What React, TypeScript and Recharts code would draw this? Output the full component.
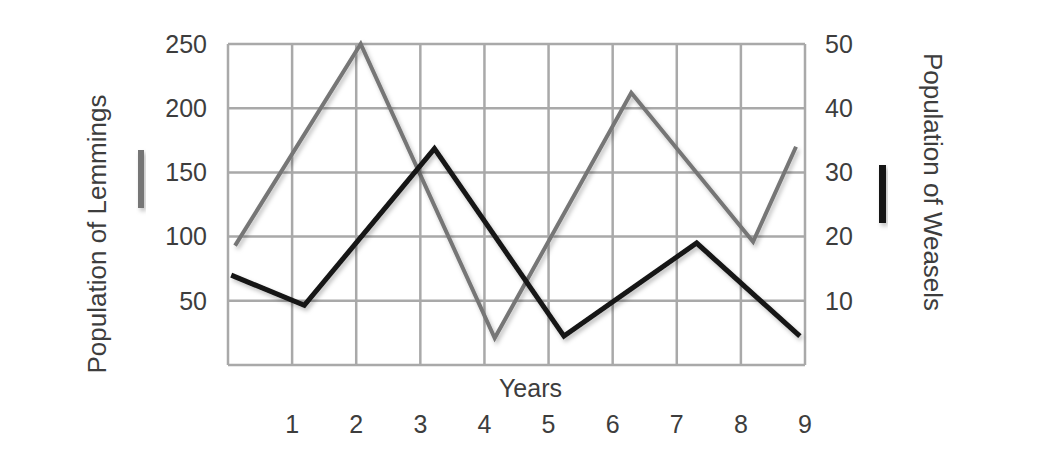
import { LineChart, Line, XAxis, YAxis, CartesianGrid, Label } from 'recharts';

// Lemming and weasel populations over nine years
const lemmingYears = [0.11, 2.07, 4.16, 6.29, 8.19, 8.86];
const lemmingCounts = [93, 250, 21, 212, 96, 170];

const weaselYears = [0.05, 1.19, 3.22, 5.24, 7.31, 8.92];
const weaselCounts = [14, 9.3, 33.7, 4.5, 19, 4.5];

const yearTicks = [0, 1, 2, 3, 4, 5, 6, 7, 8, 9];
const lemmingTicks = [0, 50, 100, 150, 200, 250];
const weaselTicks = [0, 10, 20, 30, 40, 50];

const lemmings = lemmingYears.map((year, i) => ({ year, count: lemmingCounts[i] }));
const weasels = weaselYears.map((year, i) => ({ year, count: weaselCounts[i] }));

const GRAY = '#767676';
const BLACK = '#141414';
const TEXT = '#3d3d3d';
const FONT = '"Liberation Sans", Arial, sans-serif';

const hideZero = (v: number) => (v === 0 ? '' : String(v));

function LeftTitle({ viewBox }: any) {
  const { x } = viewBox;
  const cx = x + 106;
  const cy = 234;
  return (
    <g>
      <text
        x={cx}
        y={cy}
        transform={`rotate(-90, ${cx}, ${cy})`}
        textAnchor="middle"
        fill={TEXT}
        fontSize={26}
        fontFamily={FONT}
      >
        Population of Lemmings
      </text>
      <rect x={x + 138} y={150} width={6} height={58} fill={GRAY} filter="url(#soft)" />
    </g>
  );
}

function RightTitle({ viewBox }: any) {
  const { x } = viewBox;
  const cx = x + 119;
  const cy = 182;
  return (
    <g>
      <text
        x={cx}
        y={cy}
        transform={`rotate(90, ${cx}, ${cy})`}
        textAnchor="middle"
        fill={TEXT}
        fontSize={26}
        fontFamily={FONT}
      >
        Population of Weasels
      </text>
      <rect x={x + 74} y={165} width={7} height={58} fill={BLACK} filter="url(#soft)" />
    </g>
  );
}

function BottomTitle({ viewBox }: any) {
  const { x, y, width } = viewBox;
  return (
    <text
      x={x + width / 2 + 14}
      y={y + 32}
      textAnchor="middle"
      fill={TEXT}
      fontSize={25}
      fontFamily={FONT}
    >
      Years
    </text>
  );
}

export default function App() {
  return (
    <div style={{ position: 'absolute', left: 0, top: 0, background: '#fff' }}>
      <LineChart width={1039} height={474} margin={{ top: 44, right: 0, bottom: 0, left: 0 }}>
        <defs>
          <filter id="soft" x="-20%" y="-20%" width="140%" height="140%">
            <feDropShadow dx="2" dy="3" stdDeviation="2" floodColor="#000" floodOpacity="0.25" />
          </filter>
        </defs>
        <CartesianGrid yAxisId="left" stroke="#a9a9a9" strokeWidth={2.5} />
        <XAxis
          type="number"
          dataKey="year"
          domain={[0, 9]}
          ticks={yearTicks}
          tickFormatter={hideZero}
          height={109}
          axisLine={false}
          tickLine={false}
          tickSize={0}
          tickMargin={50}
          tick={{ fill: TEXT, fontSize: 25, fontFamily: FONT }}
          allowDuplicatedCategory={false}
        >
          <Label content={<BottomTitle />} />
        </XAxis>
        <YAxis
          yAxisId="left"
          orientation="left"
          domain={[0, 250]}
          ticks={lemmingTicks}
          tickFormatter={hideZero}
          width={228}
          axisLine={false}
          tickLine={false}
          tickSize={0}
          tickMargin={21}
          tick={{ fill: TEXT, fontSize: 25, fontFamily: FONT }}
        >
          <Label content={<LeftTitle />} />
        </YAxis>
        <YAxis
          yAxisId="right"
          orientation="right"
          domain={[0, 50]}
          ticks={weaselTicks}
          tickFormatter={hideZero}
          width={234}
          axisLine={false}
          tickLine={false}
          tickSize={0}
          tickMargin={20}
          tick={{ fill: TEXT, fontSize: 25, fontFamily: FONT }}
        >
          <Label content={<RightTitle />} />
        </YAxis>
        <Line
          yAxisId="left"
          data={lemmings}
          dataKey="count"
          type="linear"
          stroke={GRAY}
          strokeWidth={4}
          strokeLinejoin="miter"
          dot={false}
          activeDot={false}
          filter="url(#soft)"
          isAnimationActive={false}
        />
        <Line
          yAxisId="right"
          data={weasels}
          dataKey="count"
          type="linear"
          stroke={BLACK}
          strokeWidth={5}
          strokeLinejoin="miter"
          dot={false}
          activeDot={false}
          filter="url(#soft)"
          isAnimationActive={false}
        />
      </LineChart>
    </div>
  );
}
